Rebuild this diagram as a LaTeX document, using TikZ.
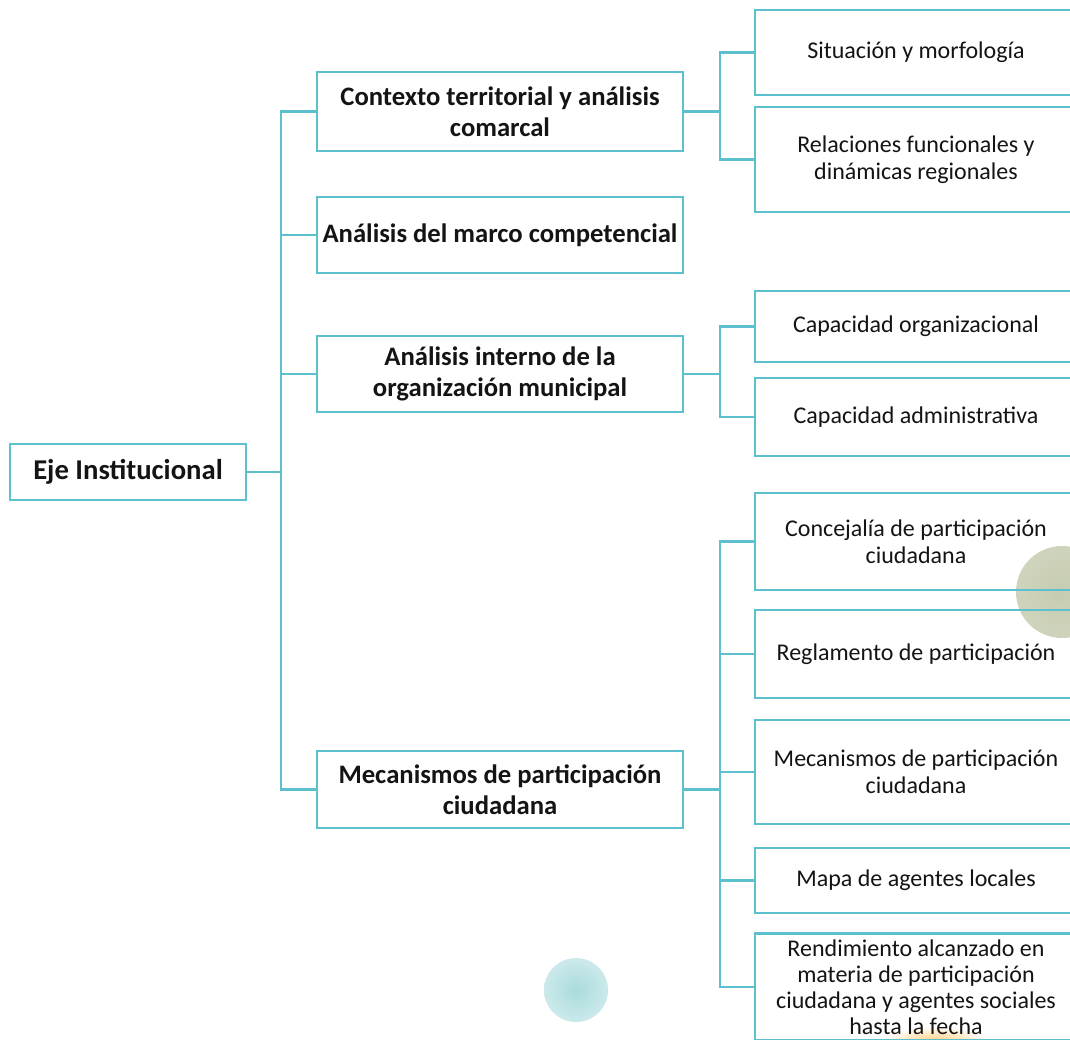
\documentclass[tikz,border=0pt]{standalone}
\usepackage{fontspec}
\setmainfont{Carlito}
\definecolor{lineC}{RGB}{92,192,207}
\definecolor{greenC}{RGB}{198,204,176}
\definecolor{tealC}{RGB}{170,219,221}
\definecolor{yellC}{RGB}{255,205,120}
\definecolor{txt}{RGB}{20,20,20}
\begin{document}
\begin{tikzpicture}[x=0.75pt,y=-0.75pt,
  box/.style={draw=lineC, line width=1.8pt, rectangle, inner sep=0pt, outer sep=0pt, align=center, text=txt},
  eje/.style={box, minimum width=177pt, minimum height=42pt, font=\fontsize{21.5}{24}\selectfont\bfseries},
  mid/.style={box, minimum width=274.5pt, font=\fontsize{20}{23.25}\selectfont\bfseries},
  leaf/.style={box, minimum width=241.5pt, font=\fontsize{18}{20}\selectfont},
  conn/.style={draw=lineC, line width=1.8pt}]
\useasboundingbox[fill=white] (0,0) rectangle (1070,1039);
% decorations
\shade[inner color=greenC, outer color=greenC!85!white] (1062,592) circle (46);
\shade[inner color=tealC, outer color=tealC!60!white] (576,990) circle (32);
\shade[inner color=yellC, outer color=white] (935,1042) ellipse (52 and 16);
% nodes
\node[eje] (eje) at (128,472) {Eje Institucional};
\node[mid, minimum height=59.25pt] (c1) at (500,111.5) {Contexto territorial y análisis\\comarcal};
\node[mid, minimum height=57pt] (c2) at (500,235) {Análisis del marco competencial};
\node[mid, minimum height=57pt] (c3) at (500,374) {Análisis interno de la\\organización municipal};
\node[mid, minimum height=57.75pt] (c4) at (500,789.5) {Mecanismos de participación\\ciudadana};
\node[leaf, minimum height=63.75pt] (l1) at (916,52.5) {Situación y morfología};
\node[leaf, minimum height=78.75pt] (l2) at (916,159.5) {Relaciones funcionales y\\dinámicas regionales};
\node[leaf, minimum height=53.25pt] (l3) at (916,326.5) {Capacidad organizacional};
\node[leaf, minimum height=58.5pt] (l4) at (916,417) {Capacidad administrativa};
\node[leaf, minimum height=72.75pt] (l5) at (916,541.5) {Concejalía de participación\\ciudadana};
\node[leaf, minimum height=66pt] (l6) at (916,654) {Reglamento de participación};
\node[leaf, minimum height=78pt] (l7) at (916,772) {Mecanismos de participación\\ciudadana};
\node[leaf, minimum height=48.75pt] (l8) at (916,880.5) {Mapa de agentes locales};
\node[leaf, minimum height=80pt, font=\fontsize{18}{19.6}\selectfont] (l9) at (916,987) {Rendimiento alcanzado en\\materia de participación\\ciudadana y agentes sociales\\hasta la fecha};
% trunk x positions
\coordinate (T) at (281,0);
\coordinate (S) at (720,0);
% connectors
\draw[conn] (eje.east) -- (eje.east -| T);
\draw[conn] (c1.west) -- (c1.west -| T) -- (c4.west -| T) -- (c4.west);
\draw[conn] (c2.west) -- (c2.west -| T);
\draw[conn] (c3.west) -- (c3.west -| T);
\draw[conn] (c1.east) -- (c1.east -| S);
\draw[conn] (l1.west) -- (l1.west -| S) -- (l2.west -| S) -- (l2.west);
\draw[conn] (c3.east) -- (c3.east -| S);
\draw[conn] (l3.west) -- (l3.west -| S) -- (l4.west -| S) -- (l4.west);
\draw[conn] (c4.east) -- (c4.east -| S);
\draw[conn] (l5.west) -- (l5.west -| S) -- (l9.west -| S) -- (l9.west);
\draw[conn] (l6.west) -- (l6.west -| S);
\draw[conn] (l7.west) -- (l7.west -| S);
\draw[conn] (l8.west) -- (l8.west -| S);
\end{tikzpicture}
\end{document}
